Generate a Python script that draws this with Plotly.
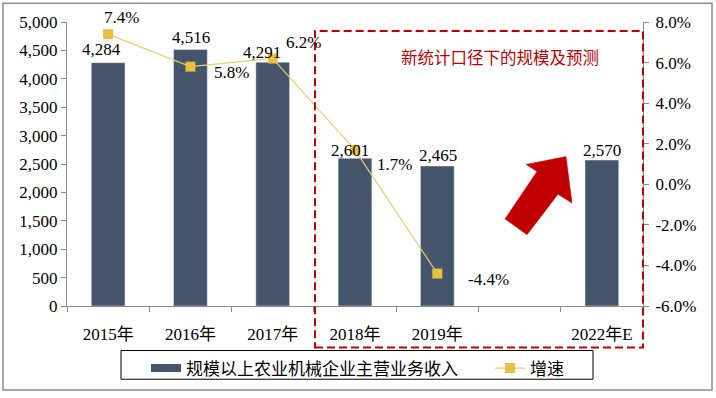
import plotly.graph_objects as go

# ---------------- data ----------------
categories = ["2015年", "2016年", "2017年", "2018年", "2019年", " ", "2022年E"]
revenue = [4284, 4516, 4291, 2601, 2465, None, 2570]
growth = [7.4, 5.8, 6.2, 1.7, -4.4, None, None]
growth_labels = ["7.4%", "5.8%", "6.2%", "1.7%", "-4.4%", None, None]
left_ticks = [0, 500, 1000, 1500, 2000, 2500, 3000, 3500, 4000, 4500, 5000]
right_ticks = [-6, -4, -2, 0, 2, 4, 6, 8]
bar_name = "规模以上农业机械企业主营业务收入"
line_name = "增速"
note_text = "新统计口径下的规模及预测"

# label offsets (pixels)
label_dx = [13, 41, 31, 39, 51, 0, 0]
label_dy = [17, -6, 16, -15, -6, 0, 0]
bar_label_dx = [-7, 1, -11, -5, 1, 0, 0]
bar_label_dy = [13, 12, 10, 8, 10, 0, 10]

# ---------------- layout geometry ----------------
W, H = 716, 398
L, R, T, B = 67, 643, 22, 309


def px(x):
    return (x - L) / (R - L)


def py(y):
    return (B - y) / (B - T)


SERIF = "Liberation Serif, Times New Roman, Noto Sans CJK SC, serif"
CJK = "Noto Sans CJK SC, Noto Sans, sans-serif"
BAR_COLOR = "#44546A"
LINE_COLOR = "#E6C23E"
RED = "#C00000"
AXIS = "#898989"

fig = go.Figure()

fig.add_trace(go.Bar(
    x=categories, y=revenue, name=bar_name, marker_color=BAR_COLOR,
    showlegend=False, yaxis="y",
))

# legend entry for the bar series, drawn as a wide rectangle swatch
fig.add_trace(go.Scatter(
    x=[None], y=[None], mode="lines", name=bar_name,
    line=dict(color=BAR_COLOR, width=8), yaxis="y", legend="legend",
))

fig.add_trace(go.Scatter(
    x=categories, y=growth, name=line_name, mode="lines+markers",
    line=dict(color="#E9CF6A", width=1.2),
    marker=dict(symbol="square", size=10, color=LINE_COLOR),
    yaxis="y2", cliponaxis=False, legend="legend2",
))

for c, v, dx, dy in zip(categories, revenue, bar_label_dx, bar_label_dy):
    if v is None:
        continue
    fig.add_annotation(
        x=c, y=v, xref="x", yref="y", text=f"{v:,}", showarrow=False,
        xanchor="center", yanchor="middle",
        xshift=dx, yshift=dy, font=dict(family=SERIF, size=17, color="#000000"),
    )

for c, g, lab, dx, dy in zip(categories, growth, growth_labels, label_dx, label_dy):
    if g is None:
        continue
    fig.add_annotation(
        x=c, y=g, xref="x", yref="y2", text=lab, showarrow=False,
        xanchor="center", yanchor="middle",
        xshift=dx, yshift=dy, font=dict(family=SERIF, size=17, color="#000000"),
    )

# note text
fig.add_annotation(
    x=px(500), y=py(57), xref="paper", yref="paper", text=note_text,
    xanchor="center", yanchor="middle",
    showarrow=False, font=dict(family=CJK, size=16.5, color=RED),
)

shapes = []
# dashed box
shapes.append(dict(
    type="rect", xref="paper", yref="paper",
    x0=px(315), x1=px(643), y0=py(351), y1=py(31),
    line=dict(color=RED, width=2, dash="8px,4px"), layer="above",
))
# arrow
arrow_pts = [(566, 158), (572, 205), (558, 196), (527, 237), (505, 221), (537, 173), (526, 166)]
path = "M " + " L ".join(f"{px(x):.5f},{py(y):.5f}" for x, y in arrow_pts) + " Z"
shapes.append(dict(
    type="path", xref="paper", yref="paper", path=path,
    fillcolor=RED, line=dict(color=RED, width=0.5), layer="above",
))
# legend frame
shapes.append(dict(
    type="rect", xref="paper", yref="paper",
    x0=px(121), x1=px(593), y0=py(383), y1=py(354),
    line=dict(color="#000000", width=1), fillcolor="#FFFFFF", layer="below",
))
# outer border
shapes.append(dict(
    type="rect", xref="paper", yref="paper",
    x0=px(3), x1=px(712), y0=py(394), y1=py(3),
    line=dict(color="#8C8C8C", width=1.5), layer="below",
))

legend_common = dict(
    orientation="h", yanchor="top", xanchor="left",
    borderwidth=0, bgcolor="rgba(0,0,0,0)",
    font=dict(family=CJK, size=17, color="#000000"),
)

fig.update_layout(
    width=W, height=H,
    margin=dict(l=L, r=W - R, t=T, b=H - B, pad=0),
    paper_bgcolor="#FFFFFF", plot_bgcolor="rgba(0,0,0,0)",
    bargap=0.59,
    shapes=shapes,
    xaxis=dict(
        type="category", categoryorder="array", categoryarray=categories,
        showline=True, linecolor=AXIS, linewidth=1,
        ticks="outside", ticklen=5, tickcolor=AXIS, tickson="boundaries",
        ticklabelstandoff=13,
        tickfont=dict(family=SERIF, size=17, color="#000000"),
        showgrid=False, zeroline=False,
    ),
    yaxis=dict(
        range=[0, 5000], tickvals=left_ticks, tickformat=",",
        showline=True, linecolor=AXIS, linewidth=1,
        ticks="outside", ticklen=5, tickcolor=AXIS,
        tickfont=dict(family=SERIF, size=17, color="#000000"),
        showgrid=False, zeroline=False,
    ),
    yaxis2=dict(
        range=[-6, 8], overlaying="y", side="right",
        tickvals=right_ticks, ticktext=[f"{v:.1f}%" for v in right_ticks],
        showline=True, linecolor=AXIS, linewidth=1,
        ticks="outside", ticklen=5, tickcolor=AXIS, ticklabelstandoff=3,
        tickfont=dict(family=SERIF, size=17, color="#000000"),
        showgrid=False, zeroline=False,
    ),
    legend=dict(x=px(146), y=py(354), **legend_common),
    legend2=dict(x=px(490), y=py(354), **legend_common),
)

fig.write_html("out.html", config={"displayModeBar": False},
               post_script="document.body.style.margin='0px';")
